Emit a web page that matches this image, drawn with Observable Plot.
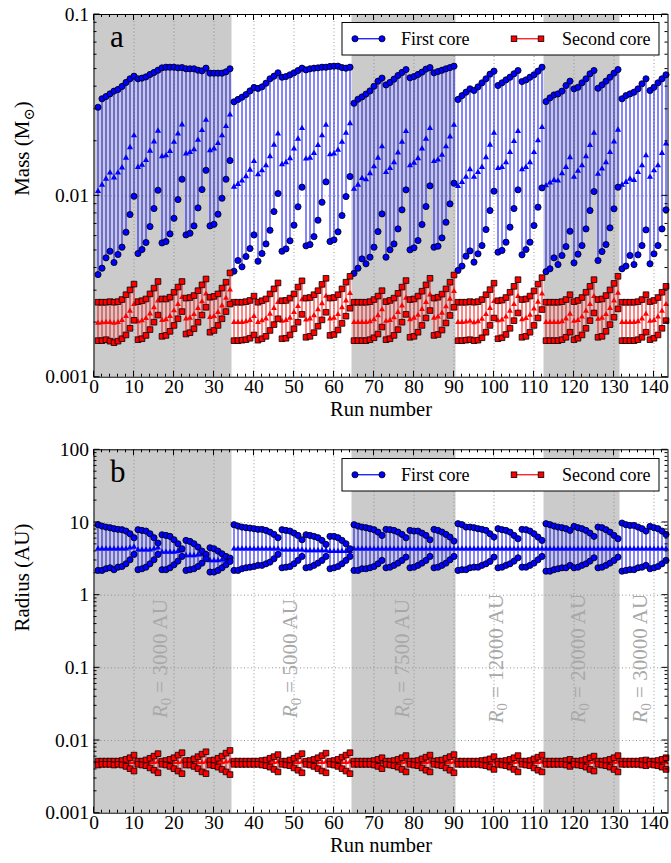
<!DOCTYPE html>
<html>
<head>
<meta charset="utf-8">
<script src="https://cdn.jsdelivr.net/npm/d3@7"></script>
<script src="https://cdn.jsdelivr.net/npm/@observablehq/plot@0.6"></script>
<style>
  body { margin: 0; background: #fff; }
  #chart svg { display: block; }
</style>
</head>
<body>
<div id="chart"></div>
<script>
// ---- Run groups (R0 values) and shaded spans ----
const groupNames = ["3000", "5000", "7500", "12000", "20000", "30000"];
const groupLabelRun = [16.5, 49, 77, 100.5, 121, 136.5];
const groupLabelRadius = [0.134, 0.134, 0.134, 0.134, 0.134, 0.134];
const shadedSpans = [[0, 34.5], [64.5, 90.5], [112.5, 131.5]];

const xTicks = [0, 10, 20, 30, 40, 50, 60, 70, 80, 90, 100, 110, 120, 130, 140];
const massTicks = [0.001, 0.01, 0.1];
const radiusTicks = [0.001, 0.01, 0.1, 1, 10, 100];

// ---- Panel a: masses (Msun), runs 1..143 ----
const firstMax = [
  0.0308, 0.0343, 0.0353, 0.0365, 0.0378, 0.0386, 0.0401, 0.0422, 0.0442, 0.0457, 0.0442, 0.0446, 0.0453, 0.0467, 0.0479, 0.0493, 0.0508, 0.0512, 0.0512, 0.0512, 0.0508, 0.0510, 0.0502, 0.0502, 0.0502, 0.0493, 0.0489, 0.0506, 0.0475, 0.0475, 0.0475, 0.0475, 0.0483, 0.0502,
  0.0330, 0.0340, 0.0350, 0.0362, 0.0379, 0.0396, 0.0391, 0.0399, 0.0418, 0.0442, 0.0457, 0.0477, 0.0451, 0.0455, 0.0465, 0.0477, 0.0491, 0.0506, 0.0495, 0.0502, 0.0506, 0.0508, 0.0512, 0.0512, 0.0517, 0.0519, 0.0519, 0.0510, 0.0506, 0.0512,
  0.0324, 0.0341, 0.0351, 0.0364, 0.0379, 0.0402, 0.0429, 0.0446, 0.0409, 0.0422, 0.0440, 0.0461, 0.0479, 0.0497, 0.0448, 0.0455, 0.0467, 0.0481, 0.0500, 0.0510, 0.0477, 0.0485, 0.0493, 0.0502, 0.0510, 0.0519,
  0.0340, 0.0357, 0.0373, 0.0389, 0.0381, 0.0399, 0.0420, 0.0442, 0.0469, 0.0487, 0.0406, 0.0420, 0.0436, 0.0451, 0.0471, 0.0491, 0.0427, 0.0436, 0.0451, 0.0465, 0.0487, 0.0512,
  0.0331, 0.0347, 0.0360, 0.0365, 0.0378, 0.0406, 0.0429, 0.0389, 0.0397, 0.0420, 0.0442, 0.0471, 0.0491, 0.0392, 0.0409, 0.0429, 0.0451, 0.0475, 0.0497,
  0.0343, 0.0357, 0.0365, 0.0373, 0.0389, 0.0415, 0.0442, 0.0381, 0.0397, 0.0420, 0.0442, 0.0465
];
const firstMed = [
  0.0106, 0.0115, 0.0124, 0.0134, 0.0126, 0.0134, 0.0143, 0.0162, 0.0185, 0.0215, 0.0144, 0.0148, 0.0157, 0.0177, 0.0199, 0.0228, 0.0165, 0.0167, 0.0176, 0.0198, 0.0220, 0.0247, 0.0171, 0.0174, 0.0180, 0.0203, 0.0230, 0.0262, 0.0178, 0.0182, 0.0195, 0.0215, 0.0242, 0.0280,
  0.0112, 0.0116, 0.0121, 0.0128, 0.0139, 0.0155, 0.0131, 0.0138, 0.0147, 0.0165, 0.0191, 0.0220, 0.0149, 0.0153, 0.0161, 0.0182, 0.0206, 0.0236, 0.0160, 0.0162, 0.0172, 0.0190, 0.0215, 0.0246, 0.0169, 0.0171, 0.0179, 0.0198, 0.0222, 0.0251,
  0.0109, 0.0115, 0.0125, 0.0123, 0.0133, 0.0145, 0.0162, 0.0187, 0.0135, 0.0142, 0.0153, 0.0173, 0.0198, 0.0227, 0.0147, 0.0152, 0.0161, 0.0182, 0.0206, 0.0236, 0.0155, 0.0158, 0.0168, 0.0187, 0.0212, 0.0246,
  0.0113, 0.0119, 0.0127, 0.0140, 0.0127, 0.0135, 0.0144, 0.0163, 0.0191, 0.0222, 0.0142, 0.0144, 0.0153, 0.0174, 0.0200, 0.0227, 0.0140, 0.0144, 0.0153, 0.0174, 0.0202, 0.0239,
  0.0114, 0.0118, 0.0122, 0.0121, 0.0133, 0.0144, 0.0163, 0.0127, 0.0137, 0.0147, 0.0165, 0.0190, 0.0222, 0.0132, 0.0141, 0.0153, 0.0174, 0.0199, 0.0231,
  0.0115, 0.0119, 0.0124, 0.0122, 0.0135, 0.0147, 0.0167, 0.0127, 0.0138, 0.0147, 0.0172, 0.0194
];
const firstMin = [
  0.00368, 0.00399, 0.00455, 0.00495, 0.00429, 0.00475, 0.00521, 0.00630, 0.00789, 0.00995, 0.00481, 0.00506, 0.00553, 0.00677, 0.00851, 0.01074, 0.00550, 0.00560, 0.00617, 0.00752, 0.00954, 0.01235, 0.00609, 0.00622, 0.00683, 0.00858, 0.01083, 0.01383, 0.00683, 0.00697, 0.00792, 0.00970, 0.01235, 0.01565,
  0.00384, 0.00440, 0.00406, 0.00463, 0.00512, 0.00609, 0.00436, 0.00481, 0.00543, 0.00646, 0.00819, 0.01030, 0.00495, 0.00510, 0.00565, 0.00689, 0.00870, 0.01116, 0.00530, 0.00539, 0.00596, 0.00734, 0.00922, 0.01194, 0.00560, 0.00572, 0.00633, 0.00779, 0.00991, 0.01278,
  0.00374, 0.00399, 0.00449, 0.00422, 0.00459, 0.00521, 0.00635, 0.00795, 0.00459, 0.00504, 0.00543, 0.00657, 0.00837, 0.01079, 0.00504, 0.00517, 0.00567, 0.00695, 0.00873, 0.01135, 0.00521, 0.00528, 0.00586, 0.00715, 0.00903, 0.01174,
  0.00388, 0.00410, 0.00465, 0.00497, 0.00431, 0.00479, 0.00532, 0.00652, 0.00830, 0.01061, 0.00489, 0.00500, 0.00555, 0.00672, 0.00851, 0.01079, 0.00473, 0.00506, 0.00555, 0.00686, 0.00866, 0.01106,
  0.00382, 0.00396, 0.00455, 0.00418, 0.00469, 0.00525, 0.00638, 0.00427, 0.00477, 0.00532, 0.00657, 0.00830, 0.01056, 0.00440, 0.00493, 0.00539, 0.00666, 0.00848, 0.01116,
  0.00396, 0.00410, 0.00469, 0.00418, 0.00473, 0.00532, 0.00649, 0.00422, 0.00479, 0.00532, 0.00657, 0.00837
];
const secondMax = [
  0.00259, 0.00259, 0.00259, 0.00261, 0.00259, 0.00261, 0.00268, 0.00285, 0.00303, 0.00326, 0.00261, 0.00264, 0.00270, 0.00288, 0.00310, 0.00337, 0.00270, 0.00270, 0.00276, 0.00294, 0.00314, 0.00337, 0.00273, 0.00275, 0.00282, 0.00300, 0.00323, 0.00348, 0.00276, 0.00279, 0.00288, 0.00310, 0.00334, 0.00376,
  0.00259, 0.00259, 0.00259, 0.00261, 0.00265, 0.00280, 0.00259, 0.00264, 0.00270, 0.00288, 0.00307, 0.00331, 0.00264, 0.00265, 0.00273, 0.00288, 0.00314, 0.00340, 0.00273, 0.00275, 0.00285, 0.00300, 0.00325, 0.00351, 0.00273, 0.00275, 0.00285, 0.00307, 0.00334, 0.00360,
  0.00259, 0.00259, 0.00259, 0.00259, 0.00261, 0.00268, 0.00280, 0.00300, 0.00261, 0.00265, 0.00273, 0.00290, 0.00314, 0.00341, 0.00268, 0.00270, 0.00280, 0.00298, 0.00323, 0.00351, 0.00273, 0.00276, 0.00287, 0.00307, 0.00334, 0.00366,
  0.00259, 0.00259, 0.00259, 0.00261, 0.00259, 0.00261, 0.00268, 0.00285, 0.00304, 0.00330, 0.00264, 0.00266, 0.00275, 0.00294, 0.00317, 0.00345, 0.00268, 0.00270, 0.00280, 0.00299, 0.00326, 0.00354,
  0.00259, 0.00259, 0.00259, 0.00259, 0.00261, 0.00268, 0.00285, 0.00261, 0.00265, 0.00275, 0.00294, 0.00317, 0.00345, 0.00268, 0.00270, 0.00282, 0.00303, 0.00329, 0.00360,
  0.00259, 0.00259, 0.00259, 0.00259, 0.00261, 0.00268, 0.00285, 0.00261, 0.00265, 0.00275, 0.00294, 0.00317
];
const secondMed = [
  0.00199, 0.00200, 0.00201, 0.00201, 0.00199, 0.00201, 0.00206, 0.00217, 0.00232, 0.00252, 0.00203, 0.00205, 0.00211, 0.00224, 0.00242, 0.00264, 0.00206, 0.00208, 0.00217, 0.00233, 0.00252, 0.00276, 0.00210, 0.00212, 0.00222, 0.00240, 0.00261, 0.00288, 0.00214, 0.00217, 0.00228, 0.00248, 0.00273, 0.00303,
  0.00201, 0.00201, 0.00201, 0.00203, 0.00206, 0.00217, 0.00201, 0.00205, 0.00210, 0.00223, 0.00240, 0.00259, 0.00204, 0.00206, 0.00212, 0.00228, 0.00246, 0.00268, 0.00207, 0.00210, 0.00219, 0.00236, 0.00255, 0.00280, 0.00210, 0.00212, 0.00222, 0.00242, 0.00264, 0.00290,
  0.00201, 0.00201, 0.00201, 0.00201, 0.00203, 0.00208, 0.00219, 0.00236, 0.00204, 0.00206, 0.00213, 0.00228, 0.00248, 0.00273, 0.00208, 0.00212, 0.00220, 0.00237, 0.00259, 0.00285, 0.00212, 0.00215, 0.00226, 0.00245, 0.00270, 0.00298,
  0.00201, 0.00201, 0.00202, 0.00204, 0.00200, 0.00203, 0.00209, 0.00222, 0.00240, 0.00262, 0.00205, 0.00207, 0.00215, 0.00232, 0.00252, 0.00279, 0.00208, 0.00211, 0.00220, 0.00238, 0.00260, 0.00288,
  0.00201, 0.00201, 0.00201, 0.00201, 0.00203, 0.00210, 0.00223, 0.00204, 0.00206, 0.00215, 0.00232, 0.00252, 0.00279, 0.00209, 0.00212, 0.00222, 0.00240, 0.00264, 0.00291,
  0.00201, 0.00201, 0.00201, 0.00201, 0.00203, 0.00210, 0.00223, 0.00204, 0.00206, 0.00215, 0.00232, 0.00252
];
const secondMin = [
  0.00159, 0.00159, 0.00161, 0.00158, 0.00155, 0.00158, 0.00163, 0.00171, 0.00186, 0.00206, 0.00161, 0.00163, 0.00170, 0.00183, 0.00201, 0.00220, 0.00168, 0.00170, 0.00179, 0.00193, 0.00210, 0.00230, 0.00173, 0.00176, 0.00185, 0.00201, 0.00220, 0.00243, 0.00177, 0.00181, 0.00193, 0.00210, 0.00230, 0.00253,
  0.00159, 0.00159, 0.00160, 0.00161, 0.00164, 0.00171, 0.00160, 0.00163, 0.00168, 0.00181, 0.00195, 0.00210, 0.00163, 0.00164, 0.00171, 0.00185, 0.00201, 0.00222, 0.00166, 0.00168, 0.00176, 0.00191, 0.00207, 0.00228, 0.00170, 0.00172, 0.00182, 0.00198, 0.00217, 0.00240,
  0.00159, 0.00159, 0.00159, 0.00159, 0.00161, 0.00165, 0.00173, 0.00189, 0.00161, 0.00163, 0.00170, 0.00183, 0.00201, 0.00222, 0.00166, 0.00168, 0.00177, 0.00193, 0.00212, 0.00233, 0.00170, 0.00172, 0.00182, 0.00199, 0.00219, 0.00243,
  0.00159, 0.00159, 0.00160, 0.00161, 0.00159, 0.00160, 0.00165, 0.00177, 0.00193, 0.00212, 0.00163, 0.00165, 0.00172, 0.00186, 0.00205, 0.00226, 0.00166, 0.00168, 0.00177, 0.00193, 0.00212, 0.00236,
  0.00159, 0.00159, 0.00159, 0.00159, 0.00161, 0.00166, 0.00177, 0.00161, 0.00164, 0.00171, 0.00186, 0.00205, 0.00226, 0.00166, 0.00168, 0.00179, 0.00195, 0.00214, 0.00238,
  0.00159, 0.00159, 0.00159, 0.00159, 0.00161, 0.00166, 0.00177, 0.00161, 0.00164, 0.00171, 0.00186, 0.00205
];

// ---- Panel b: radii (AU), runs 1..143 ----
const firstRMax = [
  9.32, 8.93, 8.65, 8.47, 8.21, 8.04, 7.95, 7.62, 7.00, 6.17, 7.95, 7.78, 7.62, 7.00, 6.17, 5.21, 6.78, 6.64, 6.44, 5.79, 5.10, 4.35, 5.67, 5.49, 5.10, 4.59, 4.04, 3.64, 4.49, 4.35, 4.04, 3.71, 3.41, 3.24,
  9.32, 8.93, 8.65, 8.47, 8.38, 8.21, 8.04, 8.04, 7.78, 7.38, 6.86, 6.17, 7.95, 7.78, 7.62, 7.15, 6.64, 5.79, 6.78, 6.64, 6.44, 6.17, 5.67, 4.99, 6.44, 6.44, 6.17, 5.67, 5.10, 4.35,
  9.32, 8.93, 8.65, 8.47, 8.21, 7.95, 7.38, 6.64, 8.04, 7.95, 7.78, 7.38, 6.86, 6.17, 7.78, 7.62, 7.62, 7.15, 6.64, 5.79, 8.04, 7.78, 7.38, 6.86, 6.30, 5.55,
  9.62, 9.32, 8.65, 8.65, 8.47, 8.21, 8.04, 7.78, 7.00, 6.30, 8.21, 7.95, 7.78, 7.38, 6.64, 5.98, 8.04, 7.95, 7.62, 7.00, 6.30, 5.67,
  9.62, 9.32, 8.93, 8.65, 8.47, 8.21, 7.78, 8.84, 8.47, 8.21, 7.78, 7.15, 6.44, 8.65, 8.47, 7.95, 7.38, 6.64, 5.98,
  9.82, 9.32, 9.12, 9.12, 8.65, 8.21, 7.62, 8.84, 8.47, 8.21, 7.62, 6.86
];
const firstRMed = [
  4.35, 4.35, 4.35, 4.35, 4.35, 4.35, 4.35, 4.35, 4.49, 4.59, 4.22, 4.22, 4.22, 4.22, 4.35, 4.49, 3.92, 3.92, 3.92, 3.92, 4.04, 4.13, 3.52, 3.52, 3.52, 3.59, 3.64, 3.71, 3.01, 3.01, 3.01, 3.07, 3.07, 3.17,
  4.35, 4.35, 4.35, 4.35, 4.35, 4.35, 4.35, 4.35, 4.35, 4.35, 4.35, 4.35, 4.22, 4.22, 4.22, 4.22, 4.22, 4.22, 4.13, 4.13, 4.13, 4.13, 4.13, 4.13, 4.04, 4.04, 4.04, 4.04, 4.04, 4.04,
  4.35, 4.35, 4.35, 4.35, 4.35, 4.35, 4.35, 4.35, 4.35, 4.35, 4.35, 4.35, 4.35, 4.35, 4.35, 4.35, 4.35, 4.35, 4.35, 4.35, 4.35, 4.35, 4.35, 4.35, 4.35, 4.35,
  4.35, 4.35, 4.35, 4.35, 4.35, 4.35, 4.35, 4.35, 4.35, 4.35, 4.35, 4.35, 4.35, 4.35, 4.35, 4.35, 4.35, 4.35, 4.35, 4.35, 4.35, 4.35,
  4.35, 4.35, 4.35, 4.35, 4.35, 4.35, 4.35, 4.35, 4.35, 4.35, 4.35, 4.35, 4.35, 4.35, 4.35, 4.35, 4.35, 4.35, 4.35,
  4.35, 4.35, 4.35, 4.35, 4.35, 4.35, 4.35, 4.35, 4.35, 4.35, 4.35, 4.35
];
const firstRMin = [
  2.19, 2.19, 2.31, 2.38, 2.24, 2.43, 2.48, 2.70, 3.07, 3.64, 2.24, 2.31, 2.43, 2.70, 3.07, 3.64, 2.24, 2.24, 2.38, 2.62, 2.94, 3.41, 2.19, 2.24, 2.31, 2.48, 2.76, 3.17, 2.08, 2.08, 2.19, 2.38, 2.62, 2.91,
  2.19, 2.19, 2.31, 2.38, 2.43, 2.48, 2.57, 2.57, 2.70, 2.85, 3.17, 3.64, 2.38, 2.43, 2.48, 2.70, 3.01, 3.41, 2.38, 2.43, 2.57, 2.76, 3.01, 3.41, 2.31, 2.38, 2.48, 2.70, 3.01, 3.41,
  2.19, 2.19, 2.31, 2.31, 2.38, 2.48, 2.70, 3.01, 2.38, 2.43, 2.57, 2.76, 3.01, 3.34, 2.38, 2.43, 2.57, 2.76, 3.01, 3.41, 2.38, 2.43, 2.57, 2.76, 3.07, 3.41,
  2.19, 2.24, 2.24, 2.38, 2.43, 2.43, 2.57, 2.70, 2.91, 3.34, 2.38, 2.43, 2.57, 2.70, 2.94, 3.27, 2.43, 2.43, 2.57, 2.76, 3.07, 3.41,
  2.14, 2.14, 2.24, 2.31, 2.38, 2.38, 2.57, 2.38, 2.43, 2.57, 2.70, 2.94, 3.27, 2.38, 2.43, 2.57, 2.76, 3.01, 3.34,
  2.14, 2.19, 2.24, 2.24, 2.38, 2.43, 2.57, 2.31, 2.38, 2.48, 2.70, 3.01
];
const secondRMax = [
  0.0052, 0.0052, 0.0052, 0.0052, 0.0052, 0.0052, 0.0053, 0.0055, 0.0058, 0.0063, 0.0052, 0.0052, 0.0054, 0.0057, 0.0061, 0.0066, 0.0052, 0.0053, 0.0055, 0.0058, 0.0063, 0.0068, 0.0053, 0.0053, 0.0056, 0.0060, 0.0065, 0.0070, 0.0053, 0.0054, 0.0057, 0.0061, 0.0067, 0.0073,
  0.0052, 0.0052, 0.0052, 0.0052, 0.0052, 0.0052, 0.0052, 0.0053, 0.0054, 0.0057, 0.0060, 0.0064, 0.0052, 0.0052, 0.0054, 0.0057, 0.0061, 0.0066, 0.0052, 0.0053, 0.0055, 0.0058, 0.0062, 0.0067, 0.0052, 0.0053, 0.0055, 0.0059, 0.0063, 0.0068,
  0.0052, 0.0052, 0.0052, 0.0052, 0.0052, 0.0053, 0.0055, 0.0058, 0.0052, 0.0052, 0.0053, 0.0055, 0.0058, 0.0062, 0.0052, 0.0052, 0.0053, 0.0056, 0.0059, 0.0063, 0.0052, 0.0053, 0.0054, 0.0057, 0.0060, 0.0064,
  0.0052, 0.0052, 0.0052, 0.0052, 0.0052, 0.0052, 0.0053, 0.0054, 0.0056, 0.0060, 0.0052, 0.0052, 0.0053, 0.0055, 0.0058, 0.0062, 0.0052, 0.0052, 0.0053, 0.0056, 0.0059, 0.0063,
  0.0052, 0.0052, 0.0052, 0.0052, 0.0052, 0.0053, 0.0055, 0.0052, 0.0052, 0.0053, 0.0055, 0.0058, 0.0061, 0.0052, 0.0052, 0.0053, 0.0055, 0.0058, 0.0062,
  0.0052, 0.0052, 0.0052, 0.0052, 0.0052, 0.0053, 0.0054, 0.0052, 0.0052, 0.0053, 0.0055, 0.0058
];
const secondRMed = [
  0.0049, 0.0049, 0.0049, 0.0049, 0.0049, 0.0049, 0.0049, 0.0049, 0.0050, 0.0050, 0.0049, 0.0049, 0.0049, 0.0050, 0.0050, 0.0051, 0.0049, 0.0049, 0.0049, 0.0050, 0.0050, 0.0051, 0.0049, 0.0049, 0.0049, 0.0050, 0.0050, 0.0051, 0.0049, 0.0049, 0.0050, 0.0050, 0.0051, 0.0052,
  0.0049, 0.0049, 0.0049, 0.0049, 0.0049, 0.0049, 0.0049, 0.0049, 0.0049, 0.0050, 0.0050, 0.0051, 0.0049, 0.0049, 0.0049, 0.0050, 0.0050, 0.0051, 0.0049, 0.0049, 0.0049, 0.0050, 0.0050, 0.0051, 0.0049, 0.0049, 0.0049, 0.0050, 0.0050, 0.0051,
  0.0049, 0.0049, 0.0049, 0.0049, 0.0049, 0.0049, 0.0050, 0.0050, 0.0049, 0.0049, 0.0049, 0.0050, 0.0050, 0.0051, 0.0049, 0.0049, 0.0049, 0.0050, 0.0050, 0.0051, 0.0049, 0.0049, 0.0049, 0.0050, 0.0050, 0.0051,
  0.0049, 0.0049, 0.0049, 0.0049, 0.0049, 0.0049, 0.0049, 0.0050, 0.0050, 0.0051, 0.0049, 0.0049, 0.0049, 0.0050, 0.0050, 0.0051, 0.0049, 0.0049, 0.0049, 0.0050, 0.0050, 0.0051,
  0.0049, 0.0049, 0.0049, 0.0049, 0.0049, 0.0049, 0.0050, 0.0049, 0.0049, 0.0049, 0.0050, 0.0050, 0.0051, 0.0049, 0.0049, 0.0049, 0.0050, 0.0050, 0.0051,
  0.0049, 0.0049, 0.0049, 0.0049, 0.0049, 0.0049, 0.0050, 0.0049, 0.0049, 0.0049, 0.0050, 0.0050
];
const secondRMin = [
  0.0046, 0.0047, 0.0047, 0.0047, 0.0046, 0.0047, 0.0046, 0.0044, 0.0041, 0.0038, 0.0047, 0.0046, 0.0045, 0.0042, 0.0039, 0.0036, 0.0047, 0.0046, 0.0044, 0.0041, 0.0038, 0.0035, 0.0046, 0.0046, 0.0044, 0.0041, 0.0037, 0.0035, 0.0046, 0.0045, 0.0043, 0.0040, 0.0037, 0.0034,
  0.0047, 0.0047, 0.0047, 0.0047, 0.0047, 0.0047, 0.0047, 0.0046, 0.0045, 0.0043, 0.0040, 0.0037, 0.0047, 0.0046, 0.0045, 0.0042, 0.0039, 0.0036, 0.0047, 0.0046, 0.0044, 0.0041, 0.0038, 0.0036, 0.0047, 0.0046, 0.0044, 0.0041, 0.0038, 0.0035,
  0.0047, 0.0047, 0.0047, 0.0047, 0.0047, 0.0046, 0.0044, 0.0041, 0.0047, 0.0046, 0.0045, 0.0043, 0.0040, 0.0037, 0.0047, 0.0046, 0.0045, 0.0042, 0.0039, 0.0037, 0.0047, 0.0046, 0.0045, 0.0042, 0.0039, 0.0036,
  0.0047, 0.0047, 0.0047, 0.0047, 0.0047, 0.0047, 0.0046, 0.0045, 0.0043, 0.0040, 0.0047, 0.0046, 0.0045, 0.0043, 0.0040, 0.0037, 0.0047, 0.0046, 0.0045, 0.0042, 0.0039, 0.0037,
  0.0047, 0.0047, 0.0047, 0.0047, 0.0047, 0.0046, 0.0044, 0.0047, 0.0046, 0.0045, 0.0043, 0.0040, 0.0038, 0.0047, 0.0046, 0.0045, 0.0043, 0.0040, 0.0037,
  0.0047, 0.0047, 0.0047, 0.0047, 0.0047, 0.0046, 0.0045, 0.0047, 0.0046, 0.0045, 0.0043, 0.0040
];

// ---- Styling ----
const BLUE = "#0000ff";
const RED = "#ff0000";
const FONT = "Liberation Serif, Times New Roman, DejaVu Serif, serif";
const W = 671;

const rows = firstMax.map((_, i) => ({
  run: i + 1,
  fMax: firstMax[i], fMed: firstMed[i], fMin: firstMin[i],
  sMax: secondMax[i], sMed: secondMed[i], sMin: secondMin[i],
  fRMax: firstRMax[i], fRMed: firstRMed[i], fRMin: firstRMin[i],
  sRMax: secondRMax[i], sRMed: secondRMed[i], sRMin: secondRMin[i]
}));

// Inward ticks on all four sides: major/minor in x, decades + 2..9 in y (log).
function frameTicks(yDomain) {
  return (index, scales, values, dims) => {
    const {x, y} = scales;
    const L = dims.marginLeft, R = dims.width - dims.marginRight;
    const T = dims.marginTop, B = dims.height - dims.marginBottom;
    const g = d3.create("svg:g").attr("stroke", "black").attr("stroke-width", 1).attr("fill", "none");
    const seg = (x1, y1, x2, y2) => g.append("line").attr("x1", x1).attr("y1", y1).attr("x2", x2).attr("y2", y2);
    for (let v = 0; v <= 143; v += 2) {
      const px = x(v), len = v % 10 === 0 ? 6 : 3;
      seg(px, B, px, B - len); seg(px, T, px, T + len);
    }
    for (let d = yDomain[0]; d < yDomain[1] * 1.0001; d *= 10) {
      for (let k = 1; k <= 9; k++) {
        const v = d * k;
        if (v > yDomain[1] * 1.0001) break;
        const py = y(v), len = k === 1 ? 6 : 3;
        seg(L, py, L + len, py); seg(R, py, R - len, py);
      }
    }
    return g.node();
  };
}

function panel(opts) {
  const {height, marginTop, marginBottom, yDomain, yTicks, yLabel, keys, labelDy} = opts;
  const marks = [
    Plot.rect(shadedSpans, {x1: d => d[0], x2: d => d[1], fill: "#cbcbcb"}),
    Plot.gridX(xTicks.slice(1), {stroke: "#8a8a8a", strokeOpacity: 1, strokeWidth: 0.9, strokeDasharray: "1,2.5"}),
    Plot.gridY(yTicks.slice(1, -1), {stroke: "#8a8a8a", strokeOpacity: 1, strokeWidth: 0.9, strokeDasharray: "1,2.5"}),
    // first core: range line, median triangle, extremes as circles
    Plot.ruleX(rows, {x: "run", y1: keys.fMin, y2: keys.fMax, stroke: BLUE, strokeOpacity: 0.8, strokeWidth: 1.2}),
    Plot.dot(rows, {x: "run", y: keys.fMed, symbol: "triangle", r: 2.3, fill: BLUE, stroke: null}),
    Plot.dot(rows, {x: "run", y: keys.fMax, r: 3.1, fill: BLUE, stroke: "black", strokeWidth: 0.8}),
    Plot.dot(rows, {x: "run", y: keys.fMin, r: 3.1, fill: BLUE, stroke: "black", strokeWidth: 0.8}),
    // second core
    Plot.ruleX(rows, {x: "run", y1: keys.sMin, y2: keys.sMax, stroke: RED, strokeOpacity: 0.8, strokeWidth: 1.2}),
    Plot.dot(rows, {x: "run", y: keys.sMed, symbol: "triangle", r: 2.2, fill: RED, stroke: null}),
    Plot.dot(rows, {x: "run", y: keys.sMax, symbol: "square", r: 3.2, fill: RED, stroke: "black", strokeWidth: 0.8}),
    Plot.dot(rows, {x: "run", y: keys.sMin, symbol: "square", r: 3.2, fill: RED, stroke: "black", strokeWidth: 0.8}),
    ...(opts.extra || []),
    Plot.frame({stroke: "black", strokeWidth: 1}),
    frameTicks(yDomain),
    Plot.axisX(xTicks, {tickSize: 0, tickPadding: 2, fontSize: 19.5, fontFamily: FONT, label: null, tickFormat: d => String(d)}),
    Plot.axisY(yTicks, {tickSize: 0, tickPadding: 5, fontSize: 19.5, fontFamily: FONT, label: null, tickFormat: d => String(d)}),
    Plot.text(["Run number"], {frameAnchor: "bottom", dy: labelDy, fontSize: 20.5, fontFamily: FONT, text: d => d}),
    Plot.text([yLabel], {frameAnchor: "left", dx: -72, rotate: -90, fontSize: 21, fontFamily: FONT, text: d => d}),
    Plot.text([opts.letter], {frameAnchor: "top-left", dx: 16, dy: 10, fontSize: 31, fontFamily: FONT, textAnchor: "start", lineAnchor: "top", text: d => d})
  ];
  return Plot.plot({
    width: W, height, marginLeft: 93.5, marginRight: 3.5, marginTop, marginBottom,
    style: {fontFamily: FONT, fontSize: "20px", color: "black", background: "white", overflow: "visible"},
    x: {domain: [0, 143.5], axis: null},
    y: {type: "log", domain: yDomain, axis: null},
    marks
  });
}

// Legend box drawn in pixel space inside the plot area
function addLegend(svg, top) {
  const s = d3.select(svg);
  const g = s.append("g").attr("font-family", FONT).attr("font-size", 18).attr("text-anchor", "start");
  const h = 32.5, cy = top + h / 2;
  g.append("rect").attr("x", 342).attr("y", top).attr("width", 317).attr("height", h)
    .attr("fill", "white").attr("stroke", "black").attr("stroke-width", 1);
  g.append("line").attr("x1", 355).attr("x2", 382).attr("y1", cy).attr("y2", cy).attr("stroke", BLUE).attr("stroke-width", 1.2);
  for (const cx of [355, 382]) g.append("circle").attr("cx", cx).attr("cy", cy).attr("r", 3.1).attr("fill", BLUE).attr("stroke", "black").attr("stroke-width", 0.8);
  g.append("text").attr("x", 401).attr("y", cy + 6).attr("text-anchor", "start").attr("fill", "black").text("First core");
  g.append("line").attr("x1", 514).attr("x2", 541).attr("y1", cy).attr("y2", cy).attr("stroke", RED).attr("stroke-width", 1.2);
  for (const cx of [514, 541]) g.append("rect").attr("x", cx - 2.8).attr("y", cy - 2.8).attr("width", 5.6).attr("height", 5.6).attr("fill", RED).attr("stroke", "black").attr("stroke-width", 0.8);
  g.append("text").attr("x", 562).attr("y", cy + 6).attr("text-anchor", "start").attr("fill", "black").text("Second core");
}

// Rich text: subscripts and italics in a few labels
function richText(svg) {
  d3.select(svg).selectAll("text").each(function () {
    const t = this.textContent;
    const el = d3.select(this);
    if (t === "Mass (M⊙)") {
      el.text("Mass (M");
      el.append("tspan").attr("font-size", "70%").attr("dy", 5).text("⊙");
      el.append("tspan").attr("dy", -5).text(")");
    } else if (t.startsWith("R0 = ")) {
      const rest = t.slice(2);
      el.text("");
      el.append("tspan").attr("font-style", "italic").text("R");
      el.append("tspan").attr("font-size", "70%").attr("dy", 4).text("0");
      el.append("tspan").attr("dy", -4).text(rest);
    }
  });
}

const svgA = panel({
  height: 417, marginTop: 14, marginBottom: 40.3, labelDy: 38.5,
  yDomain: [0.001, 0.1], yTicks: massTicks, yLabel: "Mass (M⊙)", letter: "a",
  keys: {fMax: "fMax", fMed: "fMed", fMin: "fMin", sMax: "sMax", sMed: "sMed", sMin: "sMin"}
});

const groupLabels = groupNames.map((name, i) => ({text: `R0 = ${name} AU`, run: groupLabelRun[i], r: groupLabelRadius[i]}));
const svgB = panel({
  height: 446, marginTop: 32.3, marginBottom: 50.3, labelDy: 38.5,
  yDomain: [0.001, 100], yTicks: radiusTicks, yLabel: "Radius (AU)", letter: "b",
  keys: {fMax: "fRMax", fMed: "fRMed", fMin: "fRMin", sMax: "sRMax", sMed: "sRMed", sMin: "sRMin"},
  extra: [Plot.text(groupLabels, {x: "run", y: "r", text: "text", rotate: -90, fill: "#a8a8a8", fontSize: 21, fontFamily: FONT})]
});

addLegend(svgA, 22.5);
addLegend(svgB, 41.5);
richText(svgA);
richText(svgB);

document.getElementById("chart").append(svgA, svgB);
</script>
</body>
</html>
